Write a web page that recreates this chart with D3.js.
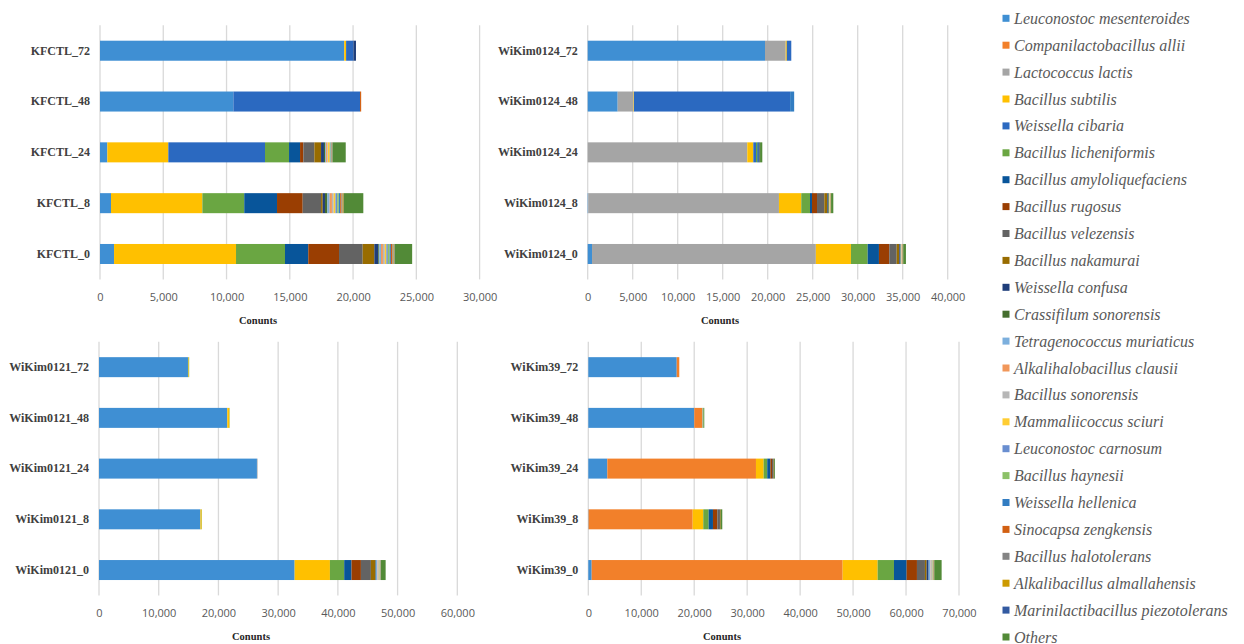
<!DOCTYPE html>
<html>
<head>
<meta charset="utf-8">
<script src="https://cdn.jsdelivr.net/npm/d3@7"></script>
<style>
  html, body { margin: 0; padding: 0; background: #fff; }
  svg { display: block; }
  .tick-num text { font-family: "Open Sans", sans-serif; font-size: 11px; fill: #595959; }
  .sample text { font-family: "Liberation Serif", "Times New Roman", serif; font-weight: bold; font-size: 12px; fill: #404040; }
  .axis-title { font-family: "Liberation Serif", "Times New Roman", serif; font-weight: bold; font-size: 10.5px; fill: #262626; }
  .legend text { font-family: "Liberation Serif", "Times New Roman", serif; font-style: italic; font-size: 16px; fill: #595959; }
</style>
</head>
<body>
<svg id="chart" width="1244" height="644"></svg>
<script>
// Species, in stacking order (left to right inside each bar)
const species = [
  "Leuconostoc mesenteroides", "Companilactobacillus allii", "Lactococcus lactis",
  "Bacillus subtilis", "Weissella cibaria", "Bacillus licheniformis",
  "Bacillus amyloliquefaciens", "Bacillus rugosus", "Bacillus velezensis",
  "Bacillus nakamurai", "Weissella confusa", "Crassifilum sonorensis",
  "Tetragenococcus muriaticus", "Alkalihalobacillus clausii", "Bacillus sonorensis",
  "Mammaliicoccus sciuri", "Leuconostoc carnosum", "Bacillus haynesii",
  "Weissella hellenica", "Sinocapsa zengkensis", "Bacillus halotolerans",
  "Alkalibacillus almallahensis", "Marinilactibacillus piezotolerans", "Others"
];

const speciesColors = [
  "#3f8fd3", "#f2802a", "#a5a5a5", "#ffc000", "#2b69c0", "#6aa642",
  "#08559a", "#9a3e02", "#636363", "#986c00", "#1f3e7a", "#456e2e",
  "#7cafdd", "#f1975a", "#b7b7b7", "#ffcd33", "#698ed0", "#8cc168",
  "#327dc2", "#d26012", "#848484", "#cc9a00", "#335aa1", "#528a37"
];

// Samples (top to bottom) and read counts per species
const kfctlSamples = ["KFCTL_72", "KFCTL_48", "KFCTL_24", "KFCTL_8", "KFCTL_0"];
const kfctlCounts = [
  [19300,0,0,150,580,0,0,0,0,0,200,0,0,0,0,0,0,0,0,0,0,0,0,0],
  [10540,0,0,0,10010,0,0,0,0,0,0,0,0,0,0,0,0,0,0,90,0,0,0,0],
  [580,0,0,4820,7640,1900,870,260,870,530,230,110,60,80,60,150,40,40,30,30,30,30,20,1040],
  [870,0,0,7220,0,3310,2590,2030,1450,130,180,190,180,180,140,140,130,130,110,100,90,90,20,1530],
  [1110,0,0,9640,0,3870,1840,2430,1870,920,320,60,150,150,150,120,120,140,100,120,90,70,30,1370]
];

const wikim0124Samples = ["WiKim0124_72", "WiKim0124_48", "WiKim0124_24", "WiKim0124_8", "WiKim0124_0"];
const wikim0124Counts = [
  [19700,0,2300,120,500,0,0,0,0,0,0,0,0,0,0,0,0,0,0,0,0,0,0,0],
  [3330,0,1760,50,17350,0,0,0,0,0,0,0,0,0,0,0,0,0,450,0,0,0,0,0],
  [0,0,17730,670,300,150,150,0,0,0,100,50,0,0,0,0,0,0,0,0,0,0,0,250],
  [60,0,21190,2480,0,970,220,560,810,330,100,80,30,30,30,40,0,30,0,30,30,20,0,250],
  [480,0,24870,3900,0,1860,1250,1150,820,290,100,60,40,40,40,40,0,40,0,30,30,20,0,300]
];

const wikim0121Samples = ["WiKim0121_72", "WiKim0121_48", "WiKim0121_24", "WiKim0121_8", "WiKim0121_0"];
const wikim0121Counts = [
  [14900,0,0,120,0,80,0,0,0,0,0,0,0,0,0,0,0,0,0,0,0,0,0,0],
  [21480,0,0,350,0,50,0,0,0,0,0,0,0,0,0,0,0,0,0,0,0,0,0,0],
  [26450,0,100,0,0,0,0,0,0,0,0,0,0,0,0,0,0,0,0,0,0,0,0,0],
  [16980,0,0,220,0,40,0,0,0,0,0,0,0,0,0,0,0,0,0,0,0,0,0,0],
  [32760,0,0,5910,0,2390,1230,1570,1670,730,80,40,220,60,200,120,50,60,30,30,30,20,10,790]
];

const wikim39Samples = ["WiKim39_72", "WiKim39_48", "WiKim39_24", "WiKim39_8", "WiKim39_0"];
const wikim39Counts = [
  [16700,480,0,0,0,0,0,0,0,0,0,0,0,0,0,0,0,0,0,0,0,0,0,0],
  [20010,1510,100,0,0,140,0,0,0,0,0,0,0,0,0,0,0,0,0,0,0,0,0,140],
  [3590,28070,0,1450,0,680,600,300,300,100,0,0,0,0,0,0,0,0,0,0,0,0,0,160],
  [50,19660,0,2000,0,1020,810,820,500,140,0,0,0,0,0,0,0,0,0,0,0,0,0,300],
  [640,47390,0,6610,0,3080,2390,1950,1510,320,380,0,300,60,260,100,40,50,30,60,80,80,0,1390]
];

// Axis tick values per panel
const kfctlTicks = [0, 5000, 10000, 15000, 20000, 25000, 30000];
const wikim0124Ticks = [0, 5000, 10000, 15000, 20000, 25000, 30000, 35000, 40000];
const wikim0121Ticks = [0, 10000, 20000, 30000, 40000, 50000, 60000];
const wikim39Ticks = [0, 10000, 20000, 30000, 40000, 50000, 60000, 70000];

const axisTitle = "Conunts";

// Panel geometry
const panels = [
  { samples: kfctlSamples, counts: kfctlCounts, ticks: kfctlTicks,
    left: 100, right: 479.6, top: 25.3, bottom: 279.4, tickY: 301, titleX: 258, titleY: 324 },
  { samples: wikim0124Samples, counts: wikim0124Counts, ticks: wikim0124Ticks,
    left: 587.7, right: 947.7, top: 25.3, bottom: 279.4, tickY: 301, titleX: 720, titleY: 324 },
  { samples: wikim0121Samples, counts: wikim0121Counts, ticks: wikim0121Ticks,
    left: 99, right: 457.3, top: 341.8, bottom: 595.4, tickY: 617, titleX: 251, titleY: 640 },
  { samples: wikim39Samples, counts: wikim39Counts, ticks: wikim39Ticks,
    left: 588.3, right: 959, top: 341.8, bottom: 595.4, tickY: 617, titleX: 722, titleY: 640 }
];

const svg = d3.select("#chart");
const fmt = d3.format(",");

panels.forEach(p => {
  const maxV = p.ticks[p.ticks.length - 1];
  const x = d3.scaleLinear().domain([0, maxV]).range([p.left, p.right]);
  const y = d3.scaleBand().domain(p.samples).range([p.top, p.bottom]).paddingInner(0.606).paddingOuter(0.303);
  const g = svg.append("g");

  // vertical gridlines
  g.append("g")
    .selectAll("line")
    .data(p.ticks)
    .join("line")
    .attr("x1", d => x(d)).attr("x2", d => x(d))
    .attr("y1", p.top).attr("y2", p.bottom)
    .attr("stroke", "#d9d9d9").attr("stroke-width", 1.3);

  // stacked bars
  const rows = p.samples.map((s, i) => {
    let acc = 0;
    return p.counts[i].map((v, k) => {
      const seg = { sample: s, k, x0: acc, x1: acc + v };
      acc += v;
      return seg;
    }).filter(d => d.x1 > d.x0);
  });
  g.append("g")
    .selectAll("g")
    .data(rows)
    .join("g")
    .selectAll("rect")
    .data(d => d)
    .join("rect")
    .attr("x", d => x(d.x0))
    .attr("width", d => Math.max(0, x(d.x1) - x(d.x0)))
    .attr("y", d => y(d.sample))
    .attr("height", y.bandwidth())
    .attr("fill", d => speciesColors[d.k]);

  // x tick labels
  const xa = g.append("g").attr("class", "tick-num")
    .attr("transform", `translate(0,${p.tickY - 12})`)
    .call(d3.axisBottom(x).tickValues(p.ticks).tickFormat(fmt).tickSize(0).tickPadding(0));
  xa.select(".domain").remove();
  xa.selectAll("text").attr("dy", null).attr("y", 12);

  // sample labels
  const ya = g.append("g").attr("class", "sample")
    .attr("transform", `translate(${p.left},0)`)
    .call(d3.axisLeft(y).tickSize(0).tickPadding(10));
  ya.select(".domain").remove();

  g.append("text").attr("class", "axis-title")
    .attr("x", p.titleX).attr("y", p.titleY)
    .attr("text-anchor", "middle").text(axisTitle);
});

// legend
const legend = svg.append("g").attr("class", "legend");
const ly = d3.scaleLinear().domain([0, species.length - 1]).range([18.3, 637]);
const items = legend.selectAll("g").data(species).join("g")
  .attr("transform", (d, i) => `translate(1002.5,${ly(i)})`);
items.append("rect").attr("x", 0).attr("y", -3.5).attr("width", 7).attr("height", 7)
  .attr("fill", (d, i) => speciesColors[i]);
items.append("text").attr("x", 11.5).attr("y", 5.5).text(d => d);
</script>
</body>
</html>
